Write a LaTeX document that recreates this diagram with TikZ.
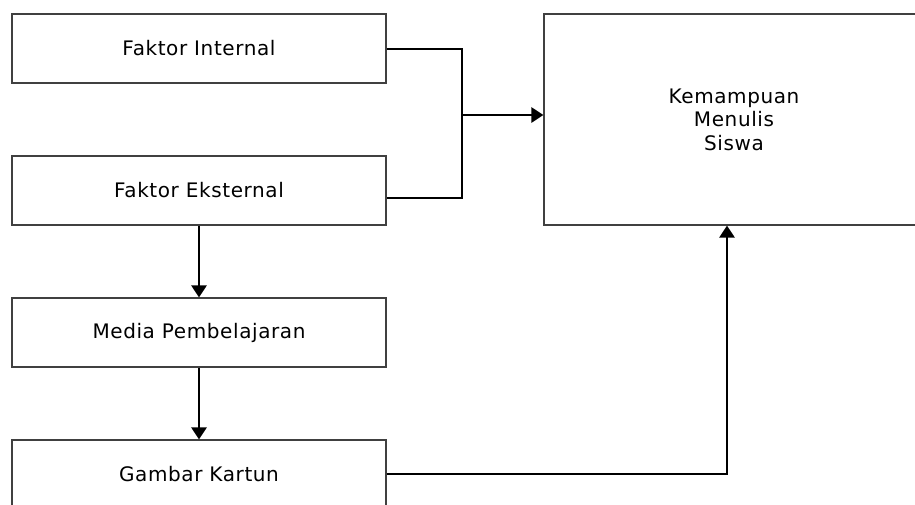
\documentclass[tikz,border=0pt]{standalone}
\usepackage{fontspec}
\setmainfont{DejaVu Sans}[LetterSpace=3]
\usetikzlibrary{arrows.meta}
\begin{document}
\begin{tikzpicture}[x=1pt,y=-1pt,
  box/.style={draw=black!75,line width=1.1pt,fill=white,inner sep=0pt,
    font=\fontsize{20}{23.5}\selectfont,align=center},
  conn/.style={draw=black,line width=2.5pt},
  arr/.style={conn,-{Triangle[length=12pt,width=15pt]}}]
\useasboundingbox (0,0) rectangle (915,504);
\fill[white] (0,0) rectangle (915,504);
\node[box,minimum width=374pt,minimum height=69pt] (fi) at (199,48.5) {Faktor Internal};
\node[box,minimum width=374pt,minimum height=69pt] (fe) at (199,190.5) {Faktor Eksternal};
\node[box,minimum width=374pt,minimum height=69pt] (mp) at (199,332.5) {Media Pembelajaran};
\node[box,minimum width=374pt,minimum height=69pt] (gk) at (199,474.5) {Gambar Kartun};
\node[box,minimum width=380pt,minimum height=211pt] (km) at (734,119.5) {Kemampuan\\Menulis\\Siswa};
\coordinate (jt) at (462,49);
\coordinate (jb) at (462,198);
\coordinate (jm) at (462,115);
\coordinate (gc) at (727,474);
\draw[conn] (fi.east |- jt) -- (jt) -- (jb) -- (fe.east |- jb);
\draw[arr] (jm) -- (jm -| km.west);
\draw[arr] (fe.south) -- (mp.north);
\draw[arr] (mp.south) -- (gk.north);
\draw[arr] (gk.east |- gc) -- (gc) -- (gc |- km.south);
\end{tikzpicture}
\end{document}
